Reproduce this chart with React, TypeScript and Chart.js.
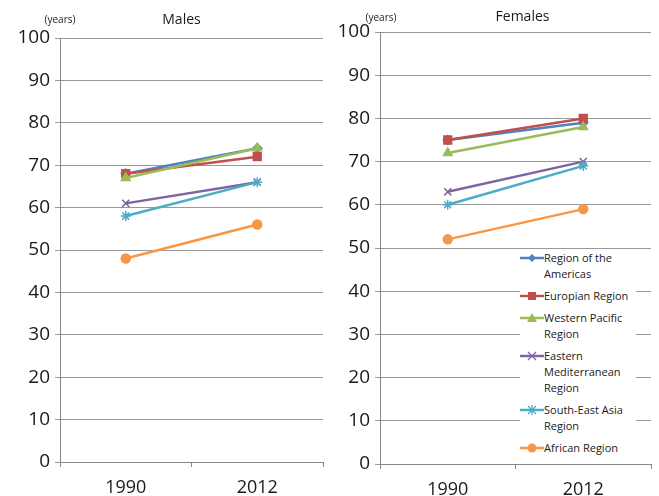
import React, { useEffect, useRef } from "react";
import { Chart, registerables } from "chart.js";

Chart.register(...registerables);

// ---------- data ----------
const years = ["1990", "2012"];
const regions = [
  "Region of the Americas",
  "Europian Region",
  "Western Pacific Region",
  "Eastern Mediterranean Region",
  "South-East Asia Region",
  "African Region",
];
const colors = ["#4F81BD", "#C0504D", "#9BBB59", "#8064A2", "#4BACC6", "#F79646"];
const pointStyles = ["rectRot", "rect", "triangle", "crossRot", "star", "circle"];
const pointRadii = [4.5, 5.5, 5, 5, 5, 4.5];

const malesAmericas = [68, 74];
const malesEurope = [68, 72];
const malesWesternPacific = [67, 74];
const malesEasternMed = [61, 66];
const malesSouthEastAsia = [58, 66];
const malesAfrica = [48, 56];

const femalesAmericas = [75, 79];
const femalesEurope = [75, 80];
const femalesWesternPacific = [72, 78];
const femalesEasternMed = [63, 70];
const femalesSouthEastAsia = [60, 69];
const femalesAfrica = [52, 59];

const malesSeries = [malesAmericas, malesEurope, malesWesternPacific, malesEasternMed, malesSouthEastAsia, malesAfrica];
const femalesSeries = [femalesAmericas, femalesEurope, femalesWesternPacific, femalesEasternMed, femalesSouthEastAsia, femalesAfrica];

const yMin = 0;
const yMax = 100;
const yStep = 10;
const unitLabel = "(years)";

const FONT = '"Open Sans", "DejaVu Sans", sans-serif';

const titlePlugin = {
  id: "panelTitles",
  afterDraw(chart: any, _args: any, opts: any) {
    const ctx = chart.ctx;
    const { left, right, top } = chart.chartArea;
    ctx.save();
    ctx.fillStyle = "#1a1a1a";
    ctx.textAlign = "center";
    ctx.textBaseline = "middle";
    ctx.font = `14px ${FONT}`;
    ctx.fillText(opts.title, (left + right) / 2 + opts.titleDx, top + opts.titleDy);
    ctx.font = `10px ${FONT}`;
    ctx.fillText(unitLabel, left + opts.unitDx, top + opts.unitDy);
    ctx.restore();
  },
};

type PanelProps = {
  title: string;
  series: number[][];
  width: number;
  height: number;
  yWidth: number;
  xHeight: number;
  padTop: number;
  padRight: number;
  titleDx: number;
  titleDy: number;
  unitDx: number;
  unitDy: number;
};

function Panel(p: PanelProps) {
  const ref = useRef<HTMLCanvasElement | null>(null);
  useEffect(() => {
    if (!ref.current) return;
    const chart = new Chart(ref.current, {
      type: "line",
      data: {
        labels: years,
        datasets: p.series.map((vals, i) => ({
          label: regions[i],
          data: vals,
          borderColor: colors[i],
          backgroundColor: colors[i],
          pointBackgroundColor: colors[i],
          pointBorderColor: colors[i],
          pointStyle: pointStyles[i] as any,
          pointRadius: pointRadii[i],
          pointBorderWidth: 1.5,
          borderWidth: 2.5,
          tension: 0,
          order: regions.length - i,
        })),
      },
      options: {
        animation: false,
        responsive: false,
        maintainAspectRatio: false,
        layout: { padding: { top: p.padTop, right: p.padRight, left: 0, bottom: 0 } },
        plugins: {
          legend: { display: false },
          tooltip: { enabled: false },
          title: { display: false },
          panelTitles: {
            title: p.title,
            titleDx: p.titleDx,
            titleDy: p.titleDy,
            unitDx: p.unitDx,
            unitDy: p.unitDy,
          },
        } as any,
        scales: {
          x: {
            offset: true,
            afterFit: (s: any) => {
              s.height = p.xHeight;
            },
            grid: {
              display: true,
              offset: true,
              drawOnChartArea: false,
              drawTicks: true,
              tickLength: 5,
              color: "#868686",
            },
            border: { display: true, color: "#868686" },
            ticks: {
              color: "#1a1a1a",
              font: { family: FONT, size: 18 },
              padding: 10,
            },
          },
          y: {
            min: yMin,
            max: yMax,
            afterFit: (s: any) => {
              s.width = p.yWidth;
            },
            grid: {
              color: "#999999",
              tickLength: 5,
              drawTicks: true,
            },
            border: { display: true, color: "#868686" },
            ticks: {
              stepSize: yStep,
              color: "#1a1a1a",
              font: { family: FONT, size: 19 },
              padding: 5,
            },
          },
        },
      },
      plugins: [titlePlugin],
    });
    return () => chart.destroy();
  }, []);
  return (
    <canvas
      ref={ref}
      width={p.width}
      height={p.height}
      style={{ width: p.width, height: p.height, display: "block", background: "#fff" }}
    />
  );
}

function LegendIcon({ i }: { i: number }) {
  const c = colors[i];
  const cx = 12;
  const cy = 6;
  let marker: any = null;
  switch (pointStyles[i]) {
    case "rectRot":
      marker = <polygon points={`${cx},${cy - 4} ${cx + 4},${cy} ${cx},${cy + 4} ${cx - 4},${cy}`} fill={c} />;
      break;
    case "rect":
      marker = <rect x={cx - 4} y={cy - 4} width={8} height={8} fill={c} />;
      break;
    case "triangle":
      marker = <polygon points={`${cx},${cy - 5} ${cx + 5},${cy + 4} ${cx - 5},${cy + 4}`} fill={c} />;
      break;
    case "crossRot":
      marker = (
        <g stroke={c} strokeWidth={1.3}>
          <line x1={cx - 4} y1={cy - 4} x2={cx + 4} y2={cy + 4} />
          <line x1={cx - 4} y1={cy + 4} x2={cx + 4} y2={cy - 4} />
        </g>
      );
      break;
    case "star":
      marker = (
        <g stroke={c} strokeWidth={1.3}>
          <line x1={cx - 4} y1={cy - 4} x2={cx + 4} y2={cy + 4} />
          <line x1={cx - 4} y1={cy + 4} x2={cx + 4} y2={cy - 4} />
          <line x1={cx} y1={cy - 5} x2={cx} y2={cy + 5} />
        </g>
      );
      break;
    default:
      marker = <circle cx={cx} cy={cy} r={4.5} fill={c} />;
  }
  return (
    <svg width={24} height={12} style={{ display: "block", flex: "0 0 24px", marginTop: 2 }}>
      <line x1={0} y1={cy} x2={24} y2={cy} stroke={c} strokeWidth={2.5} />
      {marker}
    </svg>
  );
}

function Legend() {
  return (
    <div
      style={{
        position: "absolute",
        left: 520,
        top: 250,
        width: 116,
        height: 212,
        background: "#fff",
        fontFamily: FONT,
        fontSize: 11,
        lineHeight: "16px",
        color: "#1a1a1a",
      }}
    >
      {regions.map((r, i) => (
        <div key={r} style={{ display: "flex", alignItems: "flex-start", marginBottom: 6 }}>
          <LegendIcon i={i} />
          <div style={{ width: 92, whiteSpace: "normal" }}>{r}</div>
        </div>
      ))}
    </div>
  );
}

export default function App() {
  return (
    <div
      style={{
        position: "fixed",
        left: 0,
        top: 0,
        width: 659,
        height: 496,
        background: "#fff",
        overflow: "hidden",
      }}
    >
      <div style={{ position: "absolute", left: 0, top: 0 }}>
        <Panel
          title="Males"
          series={malesSeries}
          width={330}
          height={496}
          yWidth={60}
          xHeight={34}
          padTop={38}
          padRight={0}
          titleDx={-10}
          titleDy={-18}
          unitDx={0}
          unitDy={-18}
        />
      </div>
      <div style={{ position: "absolute", left: 330, top: 0 }}>
        <Panel
          title="Females"
          series={femalesSeries}
          width={329}
          height={496}
          yWidth={50}
          xHeight={32}
          padTop={32}
          padRight={8}
          titleDx={7}
          titleDy={-15}
          unitDx={1}
          unitDy={-14}
        />
      </div>
      <Legend />
    </div>
  );
}
